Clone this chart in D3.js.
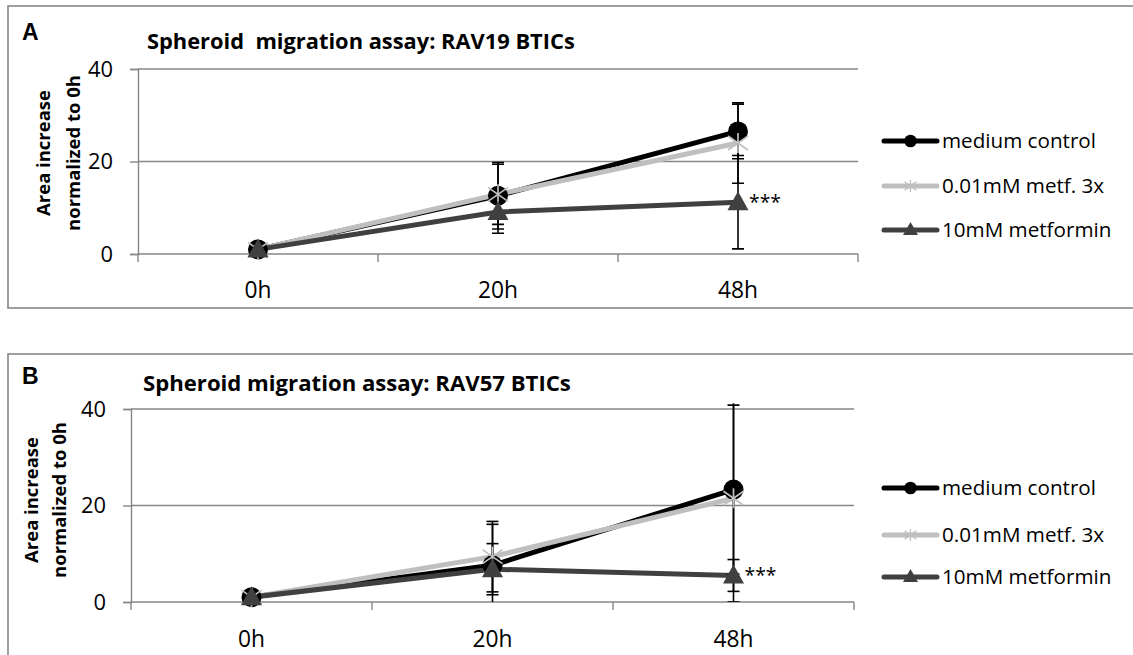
<!DOCTYPE html>
<html>
<head>
<meta charset="utf-8">
<script src="https://cdn.jsdelivr.net/npm/d3@7"></script>
<style>
  html, body { margin: 0; padding: 0; background: #fff; }
  svg { display: block; }
  text { font-family: "Open Sans", Lato, sans-serif; fill: #000; }
</style>
</head>
<body>
<svg id="chart" width="1133" height="655"></svg>
<script>
// Time points shared by both assays
const timepoints = ["0h", "20h", "48h"];
const yTicks = [0, 20, 40];
const seriesNames = ["medium control", "0.01mM metf. 3x", "10mM metformin"];

// RAV19 BTICs: mean area increase and error per time point
const rav19Control = [1.0, 12.6, 26.5];
const rav19ControlErr = [0.6, 7.2, 5.9];
const rav19Low = [1.0, 12.9, 24.0];
const rav19LowErr = [0.6, 6.5, 8.7];
const rav19High = [1.0, 9.1, 11.2];
const rav19HighErr = [0.6, 4.6, 10.1];

// RAV57 BTICs
const rav57Control = [1.0, 7.6, 23.3];
const rav57ControlErr = [0.6, 8.5, 17.5];
const rav57Low = [1.0, 9.4, 21.5];
const rav57LowErr = [0.6, 7.3, 21.5];
const rav57High = [1.0, 6.8, 5.5];
const rav57HighErr = [0.6, 5.3, 3.3];

const significance = "***";

const svg = d3.select("#chart");

const seriesStyle = [
  { color: "#000000", marker: "circle" },
  { color: "#bfbfbf", marker: "star" },
  { color: "#404040", marker: "triangle" }
];

// size a label so that its rendered width equals the given width
function fitWidth(sel, width) {
  sel.each(function () {
    const el = d3.select(this);
    const base = parseFloat(el.style("font-size")) || 16;
    const len = this.getComputedTextLength();
    if (len > 0) el.style("font-size", (base * width / len).toFixed(2) + "px");
  });
}

function drawMarker(g, type, x, y, color) {
  if (type === "circle") {
    g.append("circle").attr("cx", x).attr("cy", y).attr("r", 10).attr("fill", color);
  } else if (type === "triangle") {
    g.append("path")
      .attr("d", `M${x},${y - 11} L${x + 10.5},${y + 8} L${x - 10.5},${y + 8} Z`)
      .attr("fill", color);
  } else if (type === "star") {
    const r = 10;
    const sg = g.append("g").attr("stroke", color).attr("stroke-width", 1.7);
    [[-r, -r * 0.7, r, r * 0.7], [-r, r * 0.7, r, -r * 0.7], [0, -r, 0, r]].forEach(d => {
      sg.append("line").attr("x1", x + d[0]).attr("y1", y + d[1]).attr("x2", x + d[2]).attr("y2", y + d[3]);
    });
  }
}

function drawLegendMarker(g, type, x, y, color) {
  if (type === "circle") {
    g.append("circle").attr("cx", x).attr("cy", y).attr("r", 6.3).attr("fill", color);
  } else if (type === "triangle") {
    g.append("path").attr("d", `M${x},${y - 8} L${x + 7.5},${y + 5} L${x - 7.5},${y + 5} Z`).attr("fill", color);
  } else if (type === "star") {
    const r = 6;
    const sg = g.append("g").attr("stroke", color).attr("stroke-width", 1.3);
    [[-r, -r * 0.7, r, r * 0.7], [-r, r * 0.7, r, -r * 0.7], [0, -r, 0, r]].forEach(d => {
      sg.append("line").attr("x1", x + d[0]).attr("y1", y + d[1]).attr("x2", x + d[2]).attr("y2", y + d[3]);
    });
  }
}

function drawPanel(p) {
  const g = svg.append("g");

  // panel frame
  g.append("rect")
    .attr("x", p.frame[0]).attr("y", p.frame[1])
    .attr("width", p.frame[2]).attr("height", p.frame[3])
    .attr("fill", "none").attr("stroke", "#868686").attr("stroke-width", 1.6);

  g.append("text").text(p.letter)
    .attr("x", 22).attr("y", p.letterY)
    .style("font-family", "'Liberation Sans', Arial, sans-serif")
    .style("font-weight", "bold").style("font-size", "23px");

  g.append("text").text(p.title)
    .attr("x", p.titleX).attr("y", p.titleY)
    .style("font-weight", "bold").style("font-size", "19px")
    .style("white-space", "pre")
    .call(fitWidth, 428);

  const x = d3.scaleBand().domain(timepoints).range([p.left, p.right]).paddingInner(0).paddingOuter(0);
  const y = d3.scaleLinear().domain([0, 40]).range([p.bottom, p.top]);

  // horizontal gridlines
  g.append("g").selectAll("line").data(yTicks.filter(t => t > 0)).join("line")
    .attr("x1", p.left).attr("x2", p.right)
    .attr("y1", d => y(d)).attr("y2", d => y(d))
    .attr("stroke", "#868686").attr("stroke-width", 1.4);

  // y axis
  const yAxis = g.append("g").attr("transform", `translate(${p.left},0)`)
    .call(d3.axisLeft(y).tickValues(yTicks).tickSize(8).tickPadding(p.yLabelPad));
  yAxis.select(".domain").attr("stroke", "#868686").attr("stroke-width", 1.4);
  yAxis.selectAll(".tick line").attr("stroke", "#868686").attr("stroke-width", 1.4);
  yAxis.selectAll(".tick text")
    .style("font-family", "'Open Sans', sans-serif").style("font-size", "20px").attr("fill", "#000");
  yAxis.selectAll(".tick text").filter(d => d === 40).call(fitWidth, 25);
  const tickSize = yAxis.selectAll(".tick text").filter(d => d === 40).style("font-size");
  yAxis.selectAll(".tick text").style("font-size", tickSize);

  // x axis with ticks between categories
  const xAxis = g.append("g").attr("transform", `translate(0,${p.bottom})`)
    .call(d3.axisBottom(x).tickSize(0).tickPadding(p.xLabelPad));
  xAxis.select(".domain").attr("stroke", "#868686").attr("stroke-width", 1.4)
    .attr("d", `M${p.left},0H${p.right}`);
  xAxis.selectAll(".tick text")
    .style("font-family", "'Open Sans', sans-serif").style("font-size", "18px").attr("fill", "#000");
  xAxis.selectAll(".tick text").filter(d => d === "20h").call(fitWidth, 40);
  const xSize = xAxis.selectAll(".tick text").filter(d => d === "20h").style("font-size");
  xAxis.selectAll(".tick text").style("font-size", xSize);
  const boundaries = timepoints.map(t => x(t)).concat([x(timepoints[timepoints.length - 1]) + x.bandwidth()]);
  xAxis.append("g").selectAll("line").data(boundaries).join("line")
    .attr("x1", d => d).attr("x2", d => d).attr("y1", 0).attr("y2", 8)
    .attr("stroke", "#868686").attr("stroke-width", 1.4);

  // y axis title
  const yt = g.append("text")
    .attr("transform", `translate(${p.yTitleX},${p.yTitleCenter}) rotate(-90)`)
    .attr("text-anchor", "middle")
    .style("font-weight", "bold").style("font-size", "16px");
  yt.append("tspan").attr("x", 0).attr("y", 0).text("Area increase");
  const second = yt.append("tspan").attr("x", 0).attr("y", p.yTitleGap).text("normalized to 0h");
  const secondLen = second.node().getComputedTextLength();
  yt.style("font-size", (16 * 156 / secondLen).toFixed(2) + "px");

  const cx = t => x(t) + x.bandwidth() / 2;

  // clip area for error bars
  const clipId = "clip-" + p.letter;
  g.append("clipPath").attr("id", clipId).append("rect")
    .attr("x", p.left).attr("y", y(41.2)).attr("width", p.right - p.left).attr("height", y(0) - y(41.2));

  // series lines
  p.series.forEach((s, i) => {
    const line = d3.line().x((d, j) => cx(timepoints[j])).y(d => y(d));
    g.append("path").datum(s.values).attr("d", line)
      .attr("fill", "none").attr("stroke", seriesStyle[i].color)
      .attr("stroke-width", 5).attr("stroke-linejoin", "round");
  });

  // error bars
  const eg = g.append("g").attr("clip-path", `url(#${clipId})`)
    .attr("stroke", "#000").attr("stroke-width", 1.6);
  p.series.forEach(s => {
    s.values.forEach((v, j) => {
      const e = s.errors[j];
      const xc = cx(timepoints[j]);
      eg.append("line").attr("x1", xc).attr("x2", xc).attr("y1", y(v - e)).attr("y2", y(v + e));
      [v - e, v + e].forEach(end => {
        eg.append("line").attr("x1", xc - 6).attr("x2", xc + 6).attr("y1", y(end)).attr("y2", y(end));
      });
    });
  });

  // markers
  p.series.forEach((s, i) => {
    s.values.forEach((v, j) => drawMarker(g, seriesStyle[i].marker, cx(timepoints[j]), y(v), seriesStyle[i].color));
  });

  // significance label next to the 10mM point at 48h
  const last = timepoints.length - 1;
  g.append("text").text(significance)
    .attr("x", cx(timepoints[last]) + 11).attr("y", y(p.series[2].values[last]) + 7)
    .style("font-size", "20px")
    .call(fitWidth, 32);

  // legend
  const lg = g.append("g");
  seriesNames.forEach((name, i) => {
    const ly = p.legendY[i];
    lg.append("line").attr("x1", 884).attr("x2", 937).attr("y1", ly).attr("y2", ly)
      .attr("stroke", seriesStyle[i].color).attr("stroke-width", 5).attr("stroke-linecap", "round");
    drawLegendMarker(lg, seriesStyle[i].marker, 910.5, ly, seriesStyle[i].color);
    lg.append("text").text(name).attr("x", 942).attr("y", ly + 7).style("font-size", "18px");
  });
  const first = lg.selectAll("text").filter((d, i) => i === 0);
  first.call(fitWidth, 154);
  lg.selectAll("text").style("font-size", first.style("font-size"));
}

drawPanel({
  letter: "A",
  letterY: 40,
  title: "Spheroid  migration assay: RAV19 BTICs",
  titleX: 147, titleY: 49,
  frame: [8, 6, 1140, 302],
  left: 138, right: 858, top: 69, bottom: 254,
  xLabelPad: 28, yLabelPad: 17,
  yTitleX: 50, yTitleGap: 30, yTitleCenter: 153,
  legendY: [141, 186, 230],
  series: [
    { values: rav19Control, errors: rav19ControlErr },
    { values: rav19Low, errors: rav19LowErr },
    { values: rav19High, errors: rav19HighErr }
  ]
});

drawPanel({
  letter: "B",
  letterY: 384,
  title: "Spheroid migration assay: RAV57 BTICs",
  titleX: 143, titleY: 391,
  frame: [8, 354, 1140, 320],
  left: 131, right: 854, top: 409, bottom: 602,
  xLabelPad: 29, yLabelPad: 17,
  yTitleX: 38, yTitleGap: 28, yTitleCenter: 500,
  legendY: [488, 535, 577],
  series: [
    { values: rav57Control, errors: rav57ControlErr },
    { values: rav57Low, errors: rav57LowErr },
    { values: rav57High, errors: rav57HighErr }
  ]
});
</script>
</body>
</html>
